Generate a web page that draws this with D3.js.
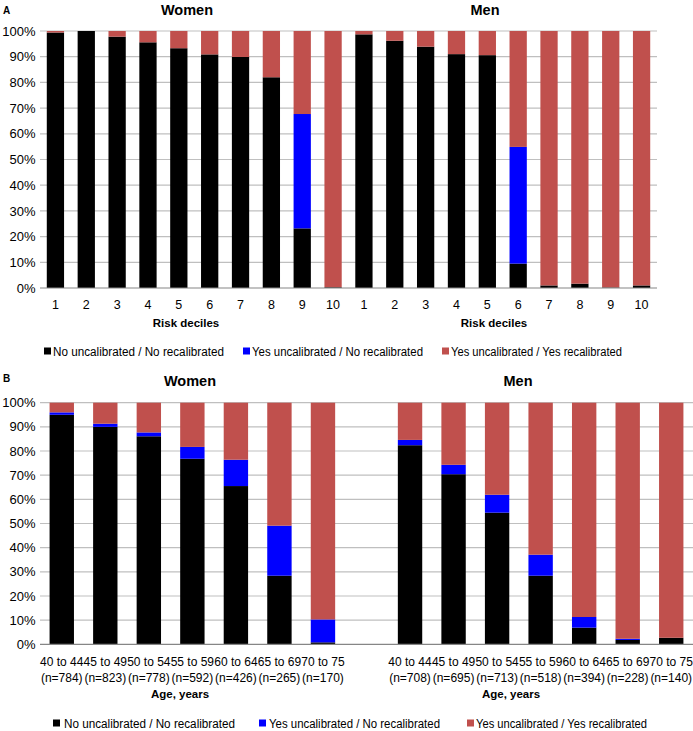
<!DOCTYPE html>
<html><head><meta charset="utf-8">
<script src="https://cdn.jsdelivr.net/npm/d3@7"></script>
<style>
body{margin:0;background:#fff;}
text{font-family:"Liberation Sans",Arial,sans-serif;fill:#000;}
</style></head>
<body><svg id="chart" width="693" height="731"></svg>
<script>
// ---- Data ----
const decileLabels = ["1","2","3","4","5","6","7","8","9","10"];
const womenDecileNoNo   = [99.4, 100, 97.8, 95.6, 93.3, 90.9, 89.9, 82.0, 23.2, 0.3];
const womenDecileYesNo  = [0, 0, 0, 0, 0, 0, 0, 0, 44.5, 0];
const menDecileNoNo     = [98.7, 96.2, 93.9, 91.0, 90.6, 9.5, 1.0, 1.7, 0.2, 1.0];
const menDecileYesNo    = [0, 0, 0, 0, 0, 45.4, 0, 0, 0, 0];

const ageGroups = ["40 to 44","45 to 49","50 to 54","55 to 59","60 to 64","65 to 69","70 to 75"];
const womenN = [784, 823, 778, 592, 426, 265, 170];
const menN   = [708, 695, 713, 518, 394, 228, 140];
const womenAgeNoNo  = [95.0, 90.0, 86.1, 76.8, 65.5, 28.4, 0.8];
const womenAgeYesNo = [1.0, 1.3, 1.6, 4.9, 10.9, 20.7, 9.5];
const menAgeNoNo    = [82.4, 70.4, 54.5, 28.4, 6.9, 1.8, 2.7];
const menAgeYesNo   = [2.2, 3.9, 7.4, 8.7, 4.4, 0.5, 0];

const seriesNames = ["No uncalibrated / No recalibrated","Yes uncalibrated / No recalibrated","Yes uncalibrated / Yes recalibrated"];
const seriesColors = ["#000000","#0000ff","#c0504d"];
const yTicks = [0,10,20,30,40,50,60,70,80,90,100];

const svg = d3.select("#chart");

function buildRows(prefix, labels, noNo, yesNo, extra) {
  return labels.map((l,i)=>({key:prefix+i, label:l, extra: extra?extra[i]:null,
    s0:noNo[i], s1:yesNo[i], s2:Math.max(0,100-noNo[i]-yesNo[i])}));
}

function drawPanel(opts){
  const g = svg.append("g");
  const y = d3.scaleLinear().domain([0,100]).range([opts.y0, opts.y1]);
  const x = d3.scaleBand().domain(opts.keys).range([40, opts.xEnd]).paddingInner(0.44).paddingOuter(0.22);
  g.selectAll("line.grid").data(yTicks.filter(t=>t>0)).join("line")
    .attr("x1",40).attr("x2",opts.xEnd).attr("y1",d=>y(d)).attr("y2",d=>y(d))
    .attr("stroke","#bfbfbf").attr("stroke-width",1.2);
  g.selectAll("text.yt").data(yTicks).join("text")
    .attr("x",35.5).attr("y",d=>y(d)+4.6).attr("text-anchor","end")
    .attr("font-size","13px").text(d=>d+"%");
  const stack = d3.stack().keys(["s0","s1","s2"]);
  const layers = stack(opts.rows);
  g.selectAll("g.layer").data(layers).join("g")
    .attr("fill",(d,i)=>seriesColors[i])
    .selectAll("rect").data(d=>d).join("rect")
    .attr("x",d=>x(d.data.key)).attr("width",x.bandwidth())
    .attr("y",d=>y(d[1])).attr("height",d=>Math.max(0,y(d[0])-y(d[1])));
  g.append("line").attr("x1",40).attr("x2",opts.xEnd).attr("y1",y(0)).attr("y2",y(0))
    .attr("stroke","#868686").attr("stroke-width",1.2);
  return {x,y,g};
}

// ---- Panel A ----
const rowsA = buildRows("w",decileLabels,womenDecileNoNo,womenDecileYesNo)
  .concat(buildRows("m",decileLabels,menDecileNoNo,menDecileYesNo));
const pA = drawPanel({rows:rowsA, keys:rowsA.map(r=>r.key), y0:288, y1:31, xEnd:657});
pA.g.selectAll("text.xt").data(rowsA).join("text")
  .attr("x",d=>pA.x(d.key)+pA.x.bandwidth()/2).attr("y",308.5).attr("text-anchor","middle")
  .attr("font-size","12.5px").text(d=>d.label);

// ---- Panel B ----
const rowsBw = buildRows("w",ageGroups,womenAgeNoNo,womenAgeYesNo,womenN);
const rowsBm = buildRows("m",ageGroups,menAgeNoNo,menAgeYesNo,menN);
const rowsB = rowsBw.concat(rowsBm);
const keysB = rowsBw.map(r=>r.key).concat(["gap"], rowsBm.map(r=>r.key));
const pB = drawPanel({rows:rowsB, keys:keysB, y0:644.3, y1:402.7, xEnd:693});
const xl = pB.g.selectAll("text.xt").data(rowsB).join("text")
  .attr("text-anchor","middle").attr("font-size","12px");
xl.append("tspan").attr("x",d=>pB.x(d.key)+pB.x.bandwidth()/2).attr("y",665.5).text(d=>d.label);
xl.append("tspan").attr("x",d=>pB.x(d.key)+pB.x.bandwidth()/2).attr("y",681.5).text(d=>"(n="+d.extra+")");

// ---- Titles / labels ----
function txt(x,y,s,size,bold,anchor){
  svg.append("text").attr("x",x).attr("y",y).attr("font-size",size+"px")
    .attr("font-weight",bold?"bold":"normal").attr("text-anchor",anchor||"middle").text(s);
}
txt(3,14,"A",10,true,"start");
txt(187,14.5,"Women",14.5,true);
txt(485,14.5,"Men",14.5,true);
txt(186,327,"Risk deciles",11.5,true);
txt(494,327,"Risk deciles",11.5,true);
txt(3,382,"B",10,true,"start");
txt(190,385.5,"Women",14.5,true);
txt(518,385.5,"Men",14.5,true);
txt(180,698,"Age, years",11.5,true);
txt(511,698,"Age, years",11.5,true);

// ---- Legends ----
function legend(cy, sqX, txX){
  seriesNames.forEach((n,i)=>{
    svg.append("rect").attr("x",sqX[i]).attr("y",cy-3.5).attr("width",7).attr("height",7).attr("fill",seriesColors[i]);
    svg.append("text").attr("x",txX[i]).attr("y",cy+4.5).attr("font-size","12.5px")
      .attr("textLength",171).attr("lengthAdjust","spacingAndGlyphs").text(n);
  });
}
legend(351,[44,243,442],[53,252,451]);
legend(723,[53,259,467],[64,269,476]);
</script></body></html>
